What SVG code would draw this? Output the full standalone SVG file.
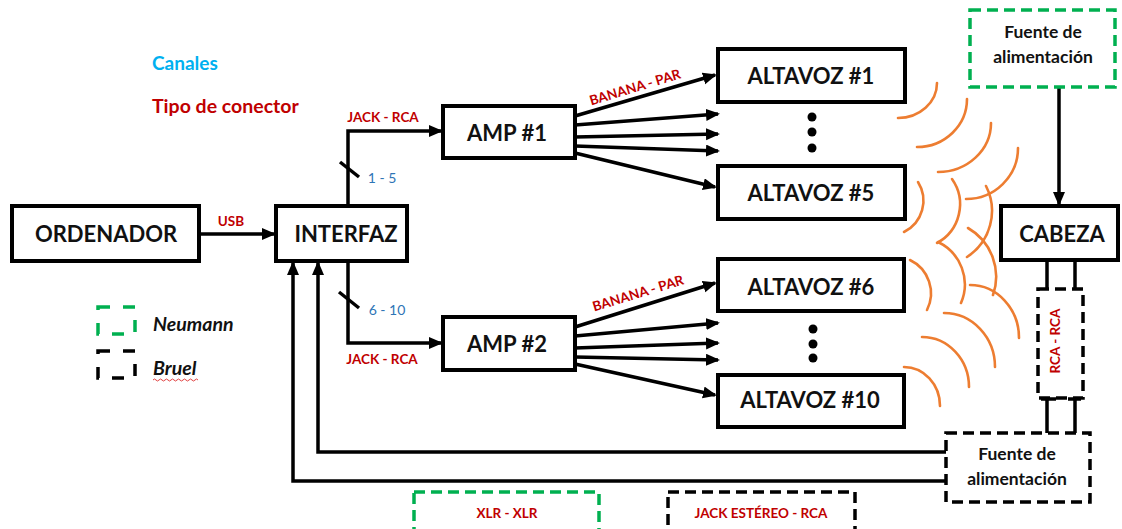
<svg xmlns="http://www.w3.org/2000/svg" width="1122" height="529" viewBox="0 0 1122 529">
<defs>
<marker id="ah" markerUnits="userSpaceOnUse" markerWidth="16" markerHeight="14" refX="12" refY="6" orient="auto">
<path d="M0,0 L14,6 L0,12 z" fill="#000"/>
</marker>
<style>
.box{fill:#fff;stroke:#000;stroke-width:4}
.dg{fill:#fff;stroke:#00B050;stroke-width:3.5;stroke-dasharray:11 6}
.db{fill:#fff;stroke:#000;stroke-width:3.5;stroke-dasharray:11 6}
.lg{fill:none;stroke-width:3.5;stroke-dasharray:12 13}
.ln{fill:none;stroke:#000;stroke-width:3.5}
.arw{fill:none;stroke:#000;stroke-width:3.5;marker-end:url(#ah)}
.wave{fill:none;stroke:#ED7D31;stroke-width:2.6;stroke-linecap:round}
.t{font-family:Lato,"Liberation Sans",sans-serif;font-weight:bold;fill:#111;text-anchor:middle}
.big{font-size:22px}
.mid{font-size:17.5px}
.red{font-family:Lato,"Liberation Sans",sans-serif;font-weight:bold;fill:#C00000;text-anchor:middle;font-size:13.5px}
.blue{font-family:Lato,"Liberation Sans",sans-serif;fill:#2E75B6;text-anchor:middle;font-size:14px}
.leg{font-family:Lato,"Liberation Sans",sans-serif;font-weight:bold;font-style:italic;font-size:19.5px;fill:#111}
</style>
</defs>
<rect width="1122" height="529" fill="#fff"/>

<g id="legend">
<text x="152" y="70" font-family="Lato,'Liberation Sans',sans-serif" font-weight="bold" font-size="19" fill="#00B0F0">Canales</text>
<text x="152" y="113" font-family="Lato,'Liberation Sans',sans-serif" font-weight="bold" font-size="19.5" fill="#C00000">Tipo de conector</text>
<rect x="98" y="307" width="37" height="27" class="lg" stroke="#00B050"/>
<text x="153" y="331" class="leg">Neumann</text>
<rect x="98" y="351" width="37" height="27" class="lg" stroke="#000"/>
<text x="153" y="375" class="leg">Bruel</text>
<path d="M153,380 q1.5,-2 3,0 t3,0 t3,0 t3,0 t3,0 t3,0 t3,0 t3,0 t3,0 t3,0 t3,0 t3,0 t3,0 t3,0 t3,0" fill="none" stroke="#E04040" stroke-width="1"/>
</g>

<g id="connectors">
<path class="arw" d="M199,234 H274"/>
<path class="arw" d="M348,206 V131 H441"/>
<path class="arw" d="M348,261 V343 H441"/>
<path class="ln" d="M340,162 L359,177"/>
<path class="ln" d="M339,292 L359,308"/>
<path class="arw" d="M575,116 L715,75"/>
<path class="arw" d="M575,125 L718,114"/>
<path class="arw" d="M575,137 L718,134"/>
<path class="arw" d="M575,146 L718,151"/>
<path class="arw" d="M575,153 L715,187"/>
<path class="arw" d="M575,327 L715,283"/>
<path class="arw" d="M575,336 L718,323"/>
<path class="arw" d="M575,348 L718,343"/>
<path class="arw" d="M575,357 L718,360"/>
<path class="arw" d="M575,364 L715,395"/>
<path class="arw" d="M1059,87 V204"/>
<path class="ln" d="M1047,260 V289"/>
<path class="ln" d="M1075,260 V289"/>
<path class="ln" d="M1041,399 H1056 M1047,399 V433"/>
<path class="ln" d="M1068,399 H1081 M1075,399 V433"/>
<path class="arw" d="M946,452 H318 V263"/>
<path class="arw" d="M946,481 H293 V263"/>
<text x="231" y="226" class="red">USB</text>
<text x="383" y="122" class="red">JACK - RCA</text>
<text x="382" y="364" class="red">JACK - RCA</text>
<text x="382" y="183" class="blue">1 - 5</text>
<text x="387" y="315" class="blue">6 - 10</text>
<text x="635" y="92" class="red" font-size="14.5" transform="rotate(-17 635 87)">BANANA - PAR</text>
<text x="638" y="298" class="red" font-size="14.5" transform="rotate(-17 638 293)">BANANA - PAR</text>
<text x="1064" y="345" class="red" font-weight="normal" font-size="14.5" transform="rotate(-90 1060 345)">RCA - RCA</text>
</g>

<g id="waves">
<path class="wave" d="M937,83 A39 35 0 0 1 898,118"/>
<path class="wave" d="M967,99 A50 48 0 0 1 917,147"/>
<path class="wave" d="M991,123 A53 49 0 0 1 938,172"/>
<path class="wave" d="M1018,148 A52 51 0 0 1 966,199"/>
<path class="wave" d="M918,182 A35 35 0 0 1 904,232"/>
<path class="wave" d="M952,179 A44 44 0 0 1 937,243"/>
<path class="wave" d="M986,186 A55 55 0 0 1 967,257"/>
<path class="wave" d="M910,260 A37 37 0 0 1 927,310"/>
<path class="wave" d="M938,242 A47 47 0 0 1 961,303"/>
<path class="wave" d="M968,228 A56 56 0 0 1 993,295"/>
<path class="wave" d="M904,367 A36 39 0 0 1 940,406"/>
<path class="wave" d="M922,337 A47 50 0 0 1 969,387"/>
<path class="wave" d="M944,313 A51 54 0 0 1 995,367"/>
<path class="wave" d="M970,285 A49 53 0 0 1 1019,338"/>
</g>

<g id="ordenador"><rect class="box" x="12" y="206" width="187" height="55"/><text x="106" y="242" class="t big">ORDENADOR</text></g>
<g id="interfaz"><rect class="box" x="276" y="206" width="131" height="55"/><text x="346" y="242" class="t big">INTERFAZ</text></g>
<g id="amp1"><rect class="box" x="443" y="106" width="132" height="52"/><text x="507" y="141" class="t big">AMP #1</text></g>
<g id="amp2"><rect class="box" x="443" y="317" width="132" height="53"/><text x="507" y="352" class="t big">AMP #2</text></g>
<g id="altavoz1"><rect class="box" x="718" y="49" width="187" height="53"/><text x="811" y="84" class="t big">ALTAVOZ #1</text></g>
<g id="altavoz5"><rect class="box" x="718" y="166" width="187" height="53"/><text x="811" y="201" class="t big">ALTAVOZ #5</text></g>
<g id="altavoz6"><rect class="box" x="718" y="259" width="186" height="52"/><text x="811" y="295" class="t big">ALTAVOZ #6</text></g>
<g id="altavoz10"><rect class="box" x="718" y="375" width="186" height="52"/><text x="810" y="408" class="t big">ALTAVOZ #10</text></g>
<g id="dots">
<circle cx="812" cy="117" r="4.5"/><circle cx="812" cy="132" r="4.5"/><circle cx="812" cy="148" r="4.5"/>
<circle cx="813" cy="329" r="4.5"/><circle cx="813" cy="344" r="4.5"/><circle cx="813" cy="358" r="4.5"/>
</g>
<g id="cabeza"><rect class="box" x="1001" y="206" width="117" height="54"/><text x="1062" y="242" class="t big">CABEZA</text></g>
<g id="fuente-neumann"><rect class="dg" x="970" y="10" width="145" height="77"/><text x="1043" y="38" class="t mid">Fuente de</text><text x="1043" y="63" class="t mid">alimentación</text></g>
<g id="rca-rca"><rect class="db" x="1038" y="289" width="45" height="109" style="fill:none"/></g>
<g id="fuente-bruel"><rect class="db" x="946" y="433" width="144" height="69"/><text x="1017" y="460" class="t mid">Fuente de</text><text x="1017" y="485" class="t mid">alimentación</text></g>
<g id="xlr"><rect class="dg" x="414" y="492" width="185" height="42"/><text x="507" y="518" class="red">XLR - XLR</text></g>
<g id="jack-estereo"><rect class="db" x="668" y="492" width="187" height="42"/><text x="761" y="518" class="red">JACK ESTÉREO - RCA</text></g>
</svg>
